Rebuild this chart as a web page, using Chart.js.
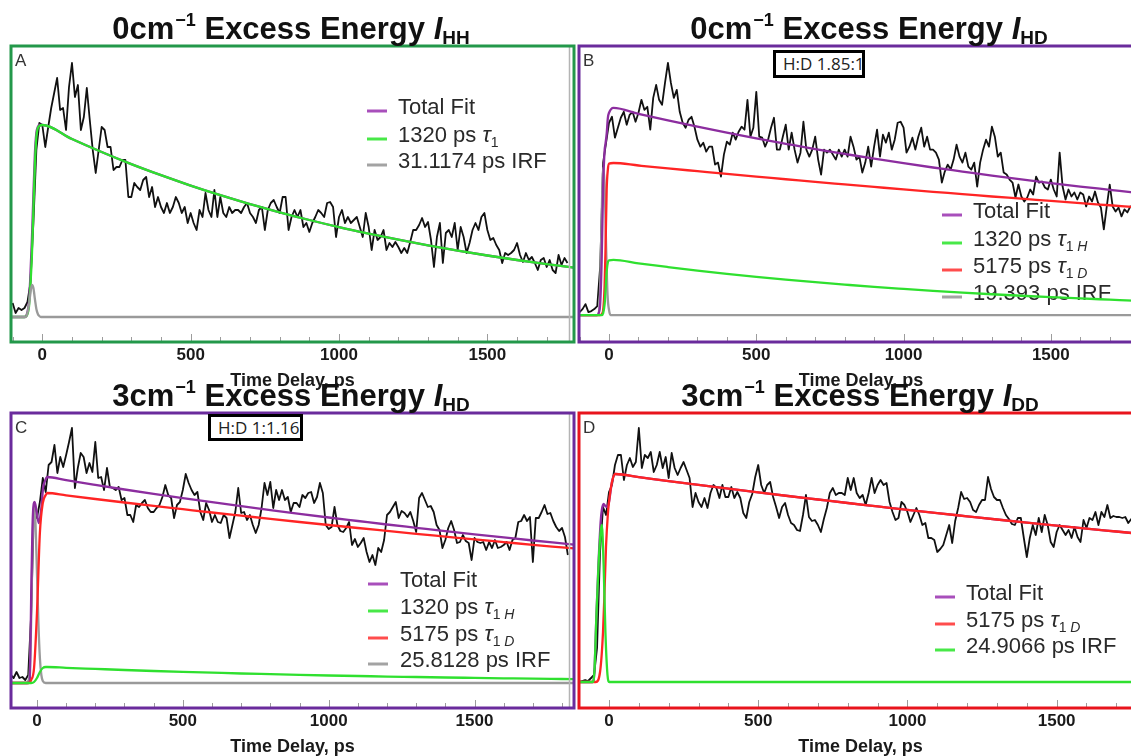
<!DOCTYPE html>
<html>
<head>
<meta charset="utf-8">
<title>Excess energy decay traces</title>
<script src="https://cdn.jsdelivr.net/npm/chart.js@4.4.1/dist/chart.umd.min.js"></script>
<style>
  html, body { margin: 0; padding: 0; background: #fff; }
  body { width: 1131px; height: 756px; overflow: hidden; position: relative;
         font-family: "Liberation Sans", Arial, sans-serif; }
  .panel { position: absolute; }
  .panel canvas { display: block; }
  .title { position: absolute; transform: translateX(-50%); white-space: nowrap;
           font-weight: bold; font-size: 31px; line-height: 31px; color: #111; z-index: 3; }
  .title sup { font-size: 18px; vertical-align: 0; position: relative; top: -13px; margin-left: 1px; }
  .title sub { font-size: 19px; vertical-align: 0; position: relative; top: 5px; }
  .ratio { position: absolute; z-index: 5; box-sizing: border-box; border: 3px solid #000;
           background: #fff; overflow: hidden; white-space: nowrap; color: #222;
           font-family: "Open Sans", sans-serif; font-size: 17px; line-height: 21px; padding-left: 7px; }
</style>
</head>
<body>
<div class="title" style="left:291px;top:13px">0cm<sup>−1</sup> Excess Energy <i>I</i><sub>HH</sub></div>
<div class="title" style="left:869px;top:13px">0cm<sup>−1</sup> Excess Energy <i>I</i><sub>HD</sub></div>
<div class="title" style="left:291px;top:380px">3cm<sup>−1</sup> Excess Energy <i>I</i><sub>HD</sub></div>
<div class="title" style="left:860px;top:380px">3cm<sup>−1</sup> Excess Energy <i>I</i><sub>DD</sub></div>
<div class="ratio" style="left:773px;top:50px;width:92px;height:28px">H:D 1.85:1</div>
<div class="ratio" style="left:208px;top:414px;width:95px;height:27px">H:D 1:1.16</div>

<script>
// ---- sampled traces: counts above baseline, one sample every STEP ps ----
const STEP = 10;

const aStart = -100;
const aCounts = [
  14, 4, 9, 7, 9, 15, 34, 94, 167, 194,
  192, 170, 190, 209, 224, 239, 207, 209, 187, 230,
  254, 220, 232, 187, 200, 229, 197, 167, 144, 167,
  190, 187, 170, 170, 147, 150, 150, 157, 157, 120,
  120, 134, 130, 127, 137, 140, 120, 130, 110, 120,
  110, 104, 114, 104, 110, 120, 114, 104, 110, 94,
  104, 94, 87, 107, 100, 124, 107, 100, 127, 100,
  120, 104, 100, 110, 104, 107, 107, 104, 110, 114,
  104, 100, 94, 107, 110, 87, 107, 114, 117, 110,
  104, 120, 120, 87, 100, 107, 100, 107, 90, 94,
  85, 94, 100, 107, 104, 100, 114, 115, 110, 80,
  100, 107, 94, 100, 94, 97, 100, 90, 80, 104,
  90, 67, 87, 77, 80, 87, 67, 74, 70, 75,
  70, 64, 69, 64, 75, 87, 87, 92, 99, 90,
  95, 77, 50, 80, 94, 54, 84, 87, 80, 94,
  67, 90, 80, 64, 74, 87, 94, 87, 100, 104,
  87, 77, 79, 72, 67, 54, 64, 62, 64, 67,
  74, 62, 55, 64, 57, 60, 54, 47, 57, 59,
  50, 57, 47, 44, 62, 52, 59, 54
];

const bStart = -100;
const bCounts = [
  3, 6, 11, 3, 4, 6, 9, 49, 153, 173,
  193, 199, 178, 188, 198, 204, 191, 201, 204, 194,
  203, 216, 206, 209, 186, 218, 231, 216, 211, 233,
  253, 233, 218, 226, 204, 193, 188, 196, 199, 189,
  176, 169, 173, 164, 169, 169, 151, 153, 139, 161,
  174, 171, 183, 176, 184, 189, 186, 216, 179, 188,
  224, 179, 178, 169, 176, 188, 198, 166, 166, 179,
  191, 166, 183, 166, 153, 163, 194, 166, 159, 166,
  179, 156, 141, 166, 163, 166, 161, 156, 166, 159,
  166, 159, 179, 169, 156, 159, 143, 153, 169, 149,
  169, 186, 159, 181, 173, 183, 166, 176, 193, 194,
  188, 163, 169, 178, 166, 179, 188, 169, 179, 166,
  166, 163, 156, 133, 144, 151, 146, 156, 171, 159,
  153, 163, 149, 146, 153, 129, 153, 166, 176, 169,
  189, 179, 159, 163, 143, 141, 136, 133, 118, 131,
  119, 114, 118, 126, 121, 139, 133, 134, 128, 126,
  136, 126, 119, 163, 129, 116, 126, 119, 123, 116,
  123, 121, 109, 119, 114, 124, 113, 108, 86, 109,
  131, 109, 104, 108, 99, 106, 103, 109, 106
];

const cStart = -90;
const cCounts = [
  8, 5, 11, 5, 6, 3, 8, 68, 178, 165,
  181, 205, 191, 218, 221, 238, 210, 226, 216, 228,
  241, 255, 195, 215, 230, 226, 210, 220, 211, 241,
  205, 206, 193, 215, 196, 195, 193, 196, 183, 185,
  168, 168, 161, 178, 176, 180, 183, 175, 171, 171,
  175, 178, 186, 198, 188, 185, 165, 178, 181, 193,
  209, 200, 193, 188, 191, 171, 163, 180, 173, 161,
  168, 161, 160, 168, 165, 145, 158, 171, 195, 170,
  171, 163, 168, 158, 150, 158, 175, 200, 188, 201,
  175, 193, 183, 193, 183, 186, 171, 180, 180, 176,
  188, 185, 190, 191, 180, 186, 200, 190, 158, 154,
  156, 176, 158, 152, 151, 155, 161, 138, 144, 136,
  140, 145, 131, 121, 128, 118, 135, 131, 143, 168,
  171, 176, 181, 165, 172, 170, 166, 171, 162, 151,
  185, 190, 183, 176, 177, 171, 158, 153, 135, 143,
  155, 162, 153, 140, 141, 148, 142, 140, 123, 145,
  141, 140, 141, 133, 141, 135, 143, 135, 136, 138,
  141, 133, 143, 145, 161, 162, 168, 162, 166, 121,
  165, 165, 171, 178, 169, 170, 162, 156, 152, 155,
  146, 128
];

const dStart = -100;
const dCounts = [
  0, 1, 2, 1, 4, 7, 34, 130, 175, 167,
  190, 197, 217, 227, 227, 202, 217, 224, 215, 220,
  254, 214, 227, 224, 230, 210, 217, 230, 214, 225,
  204, 229, 214, 207, 214, 220, 212, 204, 175, 189,
  180, 175, 184, 174, 189, 197, 194, 184, 197, 185,
  185, 195, 184, 190, 184, 169, 164, 180, 188, 205,
  217, 197, 189, 197, 200, 185, 175, 164, 175, 179,
  167, 159, 157, 152, 151, 167, 187, 165, 161, 162,
  157, 150, 163, 174, 189, 194, 187, 189, 189, 187,
  204, 192, 204, 189, 184, 187, 177, 189, 204, 189,
  197, 202, 197, 199, 180, 170, 162, 164, 180, 177,
  170, 160, 167, 174, 167, 157, 159, 144, 144, 142,
  130, 133, 137, 147, 157, 139, 161, 174, 190, 183,
  184, 180, 172, 170, 177, 182, 182, 205, 193, 185,
  182, 182, 174, 167, 163, 158, 157, 164, 164, 144,
  125, 144, 157, 147, 164, 150, 167, 157, 140, 135,
  150, 157, 152, 147, 152, 144, 155, 145, 140, 162,
  154, 164, 162, 170, 157, 170, 165, 177, 164, 166,
  165, 165, 164, 165, 159, 163, 165
];

// ---- fitted curves, read at selected delays ----
const aFitTimes = [-106, -60, -50, -45, -41, -35, -30, -25, -20, -15, -10, 0,
  100, 200, 300, 400, 500, 600, 700, 800, 900, 1000, 1100, 1200, 1300, 1400, 1500, 1600, 1700, 1800];
const aTau1 = [0, 0, 3, 10, 27, 62, 107, 152, 180, 189, 191, 192,
  178.0, 165.0, 152.9, 141.8, 131.4, 121.8, 112.9, 104.7, 97.0, 89.9, 83.4, 77.3, 71.6, 66.4, 61.5, 57.0, 52.9, 49.1];
const aTotalFit = [0, 0, 5, 15, 36, 78, 122, 163, 184, 190, 192, 192,
  178.0, 165.0, 152.9, 141.8, 131.4, 121.8, 112.9, 104.7, 97.0, 89.9, 83.4, 77.3, 71.6, 66.4, 61.5, 57.0, 52.9, 49.1];
const aIrfTimes = [-106, -55, -50, -45, -40, -35, -30, -25, -20, -15, -10, -5, 0, 1800];
const aIrf = [0, 0, 4, 12, 24, 32, 29, 18, 8, 3, 1, 0, 0, 0];

const bFitTimes = [-103, -50, -40, -35, -30, -25, -20, -15, -12, -8, -4, 0, 15,
  100, 200, 300, 400, 500, 600, 700, 800, 900, 1000, 1100, 1200, 1300, 1400, 1500, 1600, 1700, 1800, 1900];
const bTau1D = [0, 0, 0, 0, 0, 1, 5, 30, 66, 126, 146, 152, 152.6,
  150.1, 147.2, 144.4, 141.6, 138.9, 136.3, 133.6, 131.1, 128.6, 126.1, 123.7, 121.4, 119.0, 116.8, 114.5, 112.3, 110.2, 108.1, 106.0];
const bTau1H = [0, 0, 0, 0, 0, 0, 2, 11, 24, 44, 53, 55, 55.4,
  51.9, 48.2, 44.7, 41.4, 38.4, 35.6, 33.0, 30.6, 28.3, 26.3, 24.4, 22.6, 20.9, 19.4, 18.0, 16.7, 15.5, 14.3, 13.3];
const bTotalFit = [0, 0, 0, 2, 12, 55, 130, 165, 172, 182, 198, 203, 208,
  202.0, 195.4, 189.1, 183.0, 177.3, 171.9, 166.6, 161.7, 156.9, 152.4, 148.1, 144.0, 139.9, 136.2, 132.5, 129.0, 125.7, 122.4, 119.3];
const bIrfTimes = [-103, -40, -35, -30, -25, -20, -15, -10, -5, 0, 5, 1900];
const bIrf = [0, 0, 2, 30, 100, 148, 130, 70, 20, 5, 0, 0];

const cFitTimes = [-90, -40, -30, -20, -10, 0, 10, 20, 30, 35,
  100, 200, 300, 400, 500, 600, 700, 800, 900, 1000, 1100, 1200, 1300, 1400, 1500, 1600, 1700, 1800, 1900];
const cTau1D = [0, 0, 0, 3, 15, 70, 150, 180, 188, 190,
  187.6, 184.0, 180.5, 177.1, 173.8, 170.5, 167.3, 164.1, 161.0, 158.0, 155.0, 152.1, 149.2, 146.4, 143.6, 140.9, 138.2, 135.6, 133.0];
const cTau1H = [0, 0, 0, 0, 1, 5, 11, 15, 16, 16,
  15.2, 14.1, 13.0, 12.0, 11.1, 10.3, 9.5, 8.8, 8.1, 7.5, 7.0, 6.4, 6.0, 5.5, 5.1, 4.7, 4.3, 4.0, 3.7];
const cTotalTimes = [-90, -30, -25, -19, -14, -8, -1, 6, 15, 21, 29, 35,
  100, 200, 300, 400, 500, 600, 700, 800, 900, 1000, 1100, 1200, 1300, 1400, 1500, 1600, 1700, 1800, 1900];
const cTotalFit = [0, 0, 1, 101, 168, 181, 171, 160, 175, 195, 203, 206,
  202.8, 198.1, 193.5, 189.1, 184.9, 180.8, 176.8, 172.9, 169.1, 165.5, 162.0, 158.5, 155.2, 151.9, 148.7, 145.6, 142.5, 139.6, 136.7];
const cIrfTimes = [-90, -35, -30, -25, -20, -15, -10, -5, 0, 5, 10, 15, 20, 30, 1900];
const cIrf = [0, 0, 2, 10, 60, 140, 178, 160, 110, 60, 25, 8, 2, 0, 0];

const dFitTimes = [-102, -44, -30, -20, -15, -10, -4, 0, 10, 21,
  100, 200, 300, 400, 500, 600, 700, 800, 900, 1000, 1100, 1200, 1300, 1400, 1500, 1600, 1700, 1800, 1900];
const dTau1D = [0, 0, 10, 50, 90, 135, 167, 180, 200, 208,
  204.9, 200.9, 197.1, 193.3, 189.6, 186.0, 182.5, 179.0, 175.6, 172.2, 168.9, 165.7, 162.5, 159.4, 156.4, 153.4, 150.5, 147.6, 144.7];
const dTotalTimes = [-102, -55, -49, -42, -35, -28, -24, -18, -12, -5, 0, 10, 21,
  100, 200, 300, 400, 500, 600, 700, 800, 900, 1000, 1100, 1200, 1300, 1400, 1500, 1600, 1700, 1800, 1900];
const dTotalFit = [0, 0, 10, 68, 120, 160, 172, 178, 176, 175, 180, 200, 208,
  204.9, 200.9, 197.1, 193.3, 189.6, 186.0, 182.5, 179.0, 175.6, 172.2, 168.9, 165.7, 162.5, 159.4, 156.4, 153.4, 150.5, 147.6, 144.7];
const dIrfTimes = [-102, -55, -49, -42, -35, -28, -24, -18, -12, -5, 1, 1900];
const dIrf = [0, 0, 10, 67, 117, 150, 157, 117, 50, 7, 0, 0];

const timeTicks = [0, 500, 1000, 1500];

// ---- styling ----
const FONT = '"Liberation Sans", Arial, sans-serif';
const PAD = 3;        // room around the frame stroke
const AXIS_H = 50;    // tick labels + axis title below each frame
const LINE = { data: '#111111', total: '#8c2d9f', green: '#2fe02f', red: '#ff2424', gray: '#9a9a9a' };
const SWATCH = { total: '#a84fbb', green: '#48e848', red: '#ff4d4d', gray: '#a3a3a3' };

function trace(start, counts) {
  return { label: '', inLegend: false, data: counts.map((v, i) => ({ x: start + i * STEP, y: v })),
           borderColor: LINE.data, borderWidth: 1.8, order: 9 };
}
function fit(label, times, vals, key, order) {
  return { label, inLegend: true, data: times.map((t, i) => ({ x: t, y: vals[i] })),
           borderColor: LINE[key], legendColor: SWATCH[key], borderWidth: 2.3,
           cubicInterpolationMode: 'monotone', order };
}

const panels = [
  { letter: 'A', frame: { l: 11, t: 46, r: 574, b: 342 }, x: [-105.5, 1792], y: [-25, 271], color: '#23984a', inner: true,
    legend: { sx: 367, tx: 398, rows: [108, 136, 162] },
    datasets: [
      trace(aStart, aCounts),
      fit('Total Fit', aFitTimes, aTotalFit, 'total', 5),
      fit('1320 ps τ_{1}', aFitTimes, aTau1, 'green', 3),
      fit('31.1174 ps IRF', aIrfTimes, aIrf, 'gray', 2)
    ] },
  { letter: 'B', frame: { l: 579, t: 46, r: 1143, b: 342 }, x: [-102, 1813], y: [-27, 270], color: '#6a2b9c', inner: false,
    legend: { sx: 942, tx: 973, rows: [212, 240, 267, 294] },
    datasets: [
      trace(bStart, bCounts),
      fit('Total Fit', bFitTimes, bTotalFit, 'total', 5),
      fit('1320 ps τ_{1 H}', bFitTimes, bTau1H, 'green', 3),
      fit('5175 ps τ_{1 D}', bFitTimes, bTau1D, 'red', 4),
      fit('19.393 ps IRF', bIrfTimes, bIrf, 'gray', 6)
    ] },
  { letter: 'C', frame: { l: 11, t: 413, r: 574, b: 708 }, x: [-89, 1841], y: [-25, 270], color: '#6a2b9c', inner: true,
    legend: { sx: 368, tx: 400, rows: [581, 608, 635, 661] },
    datasets: [
      trace(cStart, cCounts),
      fit('Total Fit', cTotalTimes, cTotalFit, 'total', 5),
      fit('1320 ps τ_{1 H}', cFitTimes, cTau1H, 'green', 3),
      fit('5175 ps τ_{1 D}', cFitTimes, cTau1D, 'red', 4),
      fit('25.8128 ps IRF', cIrfTimes, cIrf, 'gray', 6)
    ] },
  { letter: 'D', frame: { l: 579, t: 413, r: 1142, b: 708 }, x: [-100.5, 1786], y: [-26, 269], color: '#e8141c', inner: false,
    legend: { sx: 935, tx: 966, rows: [594, 621, 647] },
    datasets: [
      trace(dStart, dCounts),
      fit('Total Fit', dTotalTimes, dTotalFit, 'total', 5),
      fit('5175 ps τ_{1 D}', dFitTimes, dTau1D, 'red', 3),
      fit('24.9066 ps IRF', dIrfTimes, dIrf, 'green', 2)
    ] }
];

// Split "1320 ps τ_{1 H}" into runs: τ and subscript capitals are italic.
function richSegments(label) {
  const segs = [];
  const push = (ch, it, sub) => {
    const last = segs[segs.length - 1];
    if (last && last.it === it && last.sub === sub) last.t += ch; else segs.push({ t: ch, it, sub });
  };
  const m = label.match(/^(.*?)_\{(.*)\}$/);
  const main = m ? m[1] : label, sub = m ? m[2] : '';
  for (const ch of main) push(ch, ch === 'τ', false);
  for (const ch of sub) push(ch, /[A-Z]/.test(ch), true);
  return segs;
}

const panelFrame = {
  id: 'panelFrame',
  beforeDatasetsDraw(chart, args, opts) {
    // legend sits under the traces
    const { ctx } = chart;
    const lg = opts.legend, size = 22;
    ctx.save();
    ctx.textBaseline = 'middle';
    ctx.fillStyle = '#2a2a2a';
    let row = 0;
    chart.data.datasets.forEach(ds => {
      if (!ds.inLegend) return;
      const y = lg.rows[row++] - opts.offY;
      ctx.strokeStyle = ds.legendColor; ctx.lineWidth = 3;
      ctx.beginPath(); ctx.moveTo(lg.sx - opts.offX, y + 3); ctx.lineTo(lg.sx - opts.offX + 20, y + 3); ctx.stroke();
      let cx = lg.tx - opts.offX;
      for (const s of richSegments(ds.label)) {
        const fs = s.sub ? 14 : size;
        ctx.font = (s.it ? 'italic ' : '') + fs + 'px ' + FONT;
        ctx.fillText(s.t, cx, y + (s.sub ? 7 : 0));
        cx += ctx.measureText(s.t).width;
      }
    });
    ctx.restore();
  },
  afterDraw(chart, args, opts) {
    const { ctx, chartArea: a, scales: { x } } = chart;
    ctx.save();
    // frame ticks along the bottom edge, every 100 ps
    ctx.strokeStyle = '#9c9c9c'; ctx.lineWidth = 1;
    for (let t = Math.ceil(x.min / 100) * 100; t <= x.max; t += 100) {
      const px = Math.round(x.getPixelForValue(t)) + 0.5;
      const len = t % 500 === 0 ? 7 : 4;
      ctx.beginPath(); ctx.moveTo(px, a.bottom - 1); ctx.lineTo(px, a.bottom - 1 - len); ctx.stroke();
    }
    if (opts.inner) {
      ctx.strokeStyle = '#b4b4b4'; ctx.lineWidth = 1.5;
      ctx.beginPath(); ctx.moveTo(a.right - 4.5, a.top); ctx.lineTo(a.right - 4.5, a.bottom); ctx.stroke();
    }
    ctx.strokeStyle = opts.color; ctx.lineWidth = 3;
    ctx.strokeRect(a.left, a.top, a.right - a.left, a.bottom - a.top);
    ctx.fillStyle = '#333'; ctx.font = '17px ' + FONT; ctx.textBaseline = 'top';
    ctx.fillText(opts.letter, a.left + 4, a.top + 7);
    ctx.restore();
  }
};

panels.forEach(p => {
  const left = p.frame.l - PAD, top = p.frame.t - PAD;
  const w = p.frame.r - p.frame.l + 2 * PAD, h = p.frame.b - p.frame.t + PAD + AXIS_H;
  const div = document.createElement('div');
  div.className = 'panel';
  div.style.left = left + 'px'; div.style.top = top + 'px';
  const cv = document.createElement('canvas');
  cv.width = w; cv.height = h; cv.style.width = w + 'px'; cv.style.height = h + 'px';
  div.appendChild(cv);
  document.body.appendChild(div);

  new Chart(cv, {
    type: 'line',
    data: { datasets: p.datasets },
    options: {
      responsive: false, animation: false, devicePixelRatio: 1,
      layout: { padding: { left: PAD, right: PAD, top: PAD, bottom: 0 } },
      elements: { point: { radius: 0 }, line: { tension: 0, borderJoinStyle: 'round' } },
      plugins: {
        legend: { display: false }, tooltip: { enabled: false },
        panelFrame: { color: p.color, letter: p.letter, inner: p.inner, legend: p.legend, offX: left, offY: top }
      },
      scales: {
        x: {
          type: 'linear', min: p.x[0], max: p.x[1],
          afterBuildTicks: s => { s.ticks = timeTicks.map(v => ({ value: v })); },
          afterFit: s => { s.height = AXIS_H; },
          grid: { display: false, drawTicks: false }, border: { display: false },
          ticks: { color: '#1a1a1a', font: { family: FONT, size: 17, weight: 'bold' }, padding: 3,
                   maxRotation: 0, autoSkip: false, callback: v => String(v) },
          title: { display: true, text: 'Time Delay, ps', color: '#1a1a1a',
                   font: { family: FONT, size: 18, weight: 'bold' }, padding: { top: 0, bottom: 0 } }
        },
        y: { display: false, min: p.y[0], max: p.y[1] }
      }
    },
    plugins: [panelFrame]
  });
});
</script>
</body>
</html>
